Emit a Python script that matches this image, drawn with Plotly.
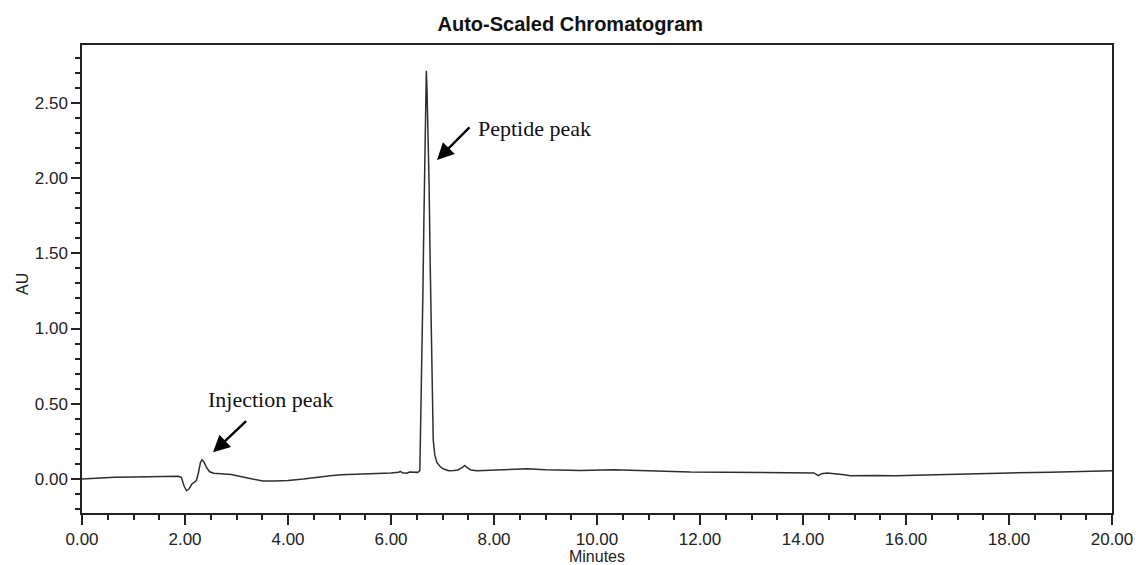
import plotly.graph_objects as go

# Retention time (minutes) and detector response (AU)
minutes = [
    0.00, 0.30, 0.63, 1.00, 1.50, 1.87, 1.93, 1.98, 2.03, 2.08, 2.13, 2.18, 2.22,
    2.26, 2.30, 2.33, 2.37, 2.42, 2.48, 2.56, 2.70, 2.90, 3.10, 3.30, 3.51, 3.75,
    4.00, 4.30, 4.55, 4.82, 5.03, 5.50, 6.00, 6.15, 6.18, 6.22, 6.31, 6.36, 6.41,
    6.46, 6.52, 6.56, 6.58, 6.60, 6.62, 6.64, 6.66, 6.675, 6.686, 6.70, 6.72, 6.74,
    6.76, 6.78, 6.80, 6.82, 6.85, 6.89, 6.95, 7.00, 7.05, 7.12, 7.22, 7.30, 7.38,
    7.43, 7.48, 7.55, 7.67, 8.00, 8.64, 9.00, 9.35, 9.68, 10.32, 10.80, 11.30,
    11.81, 12.50, 13.00, 13.56, 14.00, 14.21, 14.30, 14.36, 14.47, 14.65, 14.80,
    14.92, 15.10, 15.40, 15.79, 16.20, 16.80, 17.31, 18.00, 18.80, 19.40, 20.00,
]
absorbance = [
    0.000, 0.006, 0.011, 0.013, 0.015, 0.018, 0.010, -0.045, -0.078, -0.065, -0.035,
    -0.018, -0.010, 0.040, 0.110, 0.128, 0.112, 0.075, 0.048, 0.038, 0.034, 0.030,
    0.015, 0.000, -0.014, -0.013, -0.010, 0.000, 0.012, 0.022, 0.029, 0.033, 0.040,
    0.044, 0.050, 0.042, 0.038, 0.046, 0.046, 0.042, 0.044, 0.055, 0.40, 0.80, 1.25,
    1.75, 2.22, 2.58, 2.713, 2.58, 2.32, 1.95, 1.45, 0.95, 0.52, 0.26, 0.16, 0.11,
    0.085, 0.070, 0.063, 0.055, 0.057, 0.060, 0.075, 0.090, 0.075, 0.060, 0.055,
    0.058, 0.068, 0.062, 0.057, 0.057, 0.062, 0.056, 0.050, 0.046, 0.045, 0.045,
    0.044, 0.042, 0.040, 0.022, 0.035, 0.040, 0.036, 0.028, 0.022, 0.024, 0.024,
    0.022, 0.026, 0.030, 0.035, 0.040, 0.044, 0.048, 0.055,
]

x_ticks = [0, 2, 4, 6, 8, 10, 12, 14, 16, 18, 20]
x_tick_labels = ["0.00", "2.00", "4.00", "6.00", "8.00", "10.00",
                 "12.00", "14.00", "16.00", "18.00", "20.00"]
y_ticks = [0.0, 0.5, 1.0, 1.5, 2.0, 2.5]
y_tick_labels = ["0.00", "0.50", "1.00", "1.50", "2.00", "2.50"]

peak_labels = ["Injection peak", "Peptide peak"]
label_pos = [(2.40, 0.527), (7.66, 2.332)]
arrow_tip = [(2.544, 0.177), (6.893, 2.120)]
arrow_tail = [(3.216, 0.394), (7.553, 2.346)]

fig = go.Figure()
fig.add_trace(go.Scatter(
    x=minutes, y=absorbance, mode="lines",
    line=dict(color="#2e2e2e", width=1.5),
    showlegend=False, hoverinfo="skip",
))

for text, (lx, ly), (hx, hy), (tx, ty) in zip(peak_labels, label_pos, arrow_tip, arrow_tail):
    fig.add_annotation(
        x=lx, y=ly, text=text, showarrow=False, xanchor="left", yanchor="middle",
        font=dict(family="Liberation Serif, Times New Roman, serif", size=22, color="#111"),
    )
    fig.add_annotation(
        x=hx, y=hy, ax=tx, ay=ty, xref="x", yref="y", axref="x", ayref="y",
        text="", showarrow=True, arrowhead=2, arrowsize=1.4, arrowwidth=2.4,
        arrowcolor="#000000",
    )

axis_font = dict(family="Liberation Sans, Arial, sans-serif", size=17, color="#222")
title_font = dict(family="Liberation Sans, Arial, sans-serif", size=16, color="#222")

# Y-axis title placed as a rotated label left of the tick labels
fig.add_annotation(
    x=-0.058, y=0.49, xref="paper", yref="paper", text="AU", showarrow=False,
    textangle=-90, xanchor="center", yanchor="middle", font=title_font,
)

fig.update_layout(
    width=1136, height=565,
    margin=dict(l=82, r=24, t=45, b=52),
    paper_bgcolor="white", plot_bgcolor="white",
    title=dict(
        text="<b>Auto-Scaled Chromatogram</b>", x=0.502, xanchor="center",
        y=0.958, yanchor="middle",
        font=dict(family="Liberation Sans, Arial, sans-serif", size=20, color="#111"),
    ),
    xaxis=dict(
        range=[0, 20], tickvals=x_ticks, ticktext=x_tick_labels,
        ticks="outside", ticklen=10, tickwidth=1.5, tickcolor="#222",
        minor=dict(dtick=0.5, tick0=0, ticks="outside", ticklen=5, tickwidth=1.5,
                   tickcolor="#222", showgrid=False),
        showline=True, linecolor="#222", linewidth=1.5, mirror=True,
        showgrid=False, zeroline=False, tickfont=axis_font, automargin=False,
        title=dict(text="Minutes", font=title_font, standoff=4),
    ),
    yaxis=dict(
        range=[-0.226, 2.884], tickvals=y_ticks, ticktext=y_tick_labels,
        ticks="outside", ticklen=9, tickwidth=1.5, tickcolor="#222",
        minor=dict(dtick=0.1, tick0=0, ticks="outside", ticklen=5, tickwidth=1.5,
                   tickcolor="#222", showgrid=False),
        showline=True, linecolor="#222", linewidth=1.5, mirror=True,
        showgrid=False, zeroline=False, tickfont=axis_font, automargin=False,
    ),
)

fig.write_html("out.html")
